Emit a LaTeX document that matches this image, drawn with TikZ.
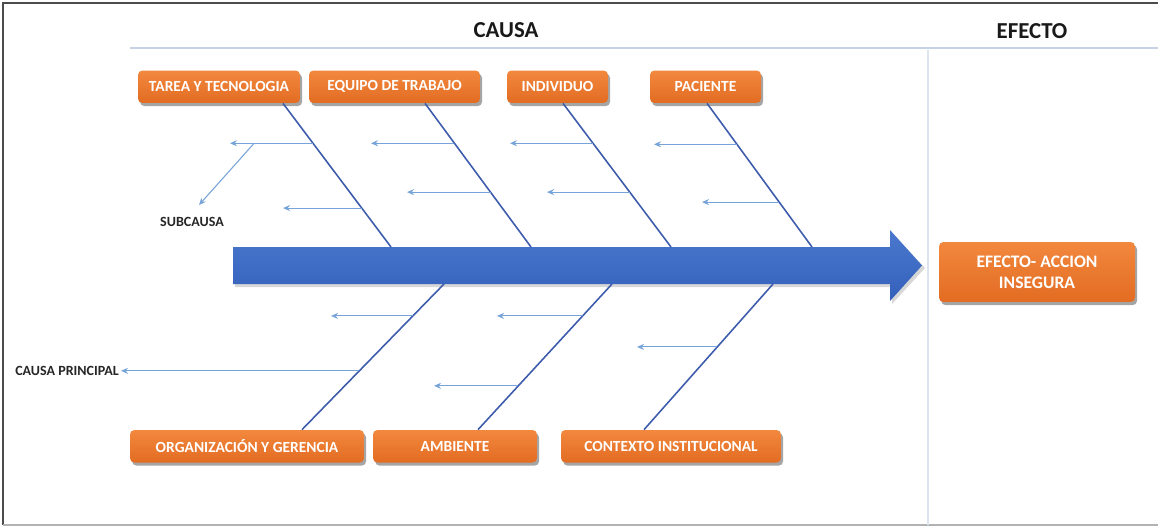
\documentclass[tikz,border=0pt]{standalone}
\usepackage{fontspec}
\setmainfont{Carlito}
\usepackage{xcolor}
\usepackage{tikz}
\usetikzlibrary{arrows.meta,shadows,calc}

\definecolor{orgtop}{RGB}{242,136,62}
\definecolor{orgbot}{RGB}{226,108,34}
\definecolor{spinetop}{RGB}{74,120,206}
\definecolor{spinebot}{RGB}{52,96,186}
\definecolor{bonecol}{RGB}{62,92,172}
\definecolor{subcol}{RGB}{118,164,216}
\definecolor{rulecol}{RGB}{196,210,228}

\begin{document}
\begin{tikzpicture}[x=0.02cm,y=-0.02cm,
  cbox/.style={rounded corners=2.5pt,top color=orgtop,bottom color=orgbot,draw=none,
    text=white,font=\fontsize{8.8}{10}\selectfont\bfseries,minimum height=0.65cm,
    inner sep=1pt,align=center,
    drop shadow={shadow xshift=1.2pt,shadow yshift=-1.8pt,fill=black!70,opacity=.5}},
  lbl/.style={font=\fontsize{8}{9}\selectfont\bfseries,text=black!85,inner sep=1pt},
  ttl/.style={font=\fontsize{13}{15}\selectfont\bfseries,text=black!90},
  bone/.style={bonecol,line width=0.9pt},
  sub/.style={subcol,line width=0.6pt,-{Stealth[length=1.4mm,width=1.2mm]}}]
  \useasboundingbox (0,0) rectangle (1158,527);
  % frame and the two areas
  \draw[black!70,line width=1.4pt] (1158,3) -- (3,3) -- (3,525);
  \draw[black!30,line width=0.8pt] (3,525) -- (1158,525);
  \draw[rulecol,line width=0.8pt] (130,48) -- (1158,48);
  \draw[rulecol!60,line width=0.8pt] (928,50) -- (928,525);
  \node[ttl] (causa) at (506,30) {CAUSA};
  \node[ttl] (efecto) at (1032,31) {EFECTO};
  % spine
  \fill[black!35,opacity=.45] (235,250) -- (892,250) -- (892,233) -- (925,268) -- (892,304) -- (892,287) -- (235,287) -- cycle;
  \shade[top color=spinetop,bottom color=spinebot] (233,247) -- (890,247) -- (890,230) -- (922,265.5) -- (890,301) -- (890,284) -- (233,284) -- cycle;
  \foreach \n/\x/\y in {s1/391/247, s2/531/247, s3/671/247, s4/812/247, s5/444/284, s6/612/284, s7/773/284}
    \coordinate (\n) at (\x,\y);
  % main causes
  \node[cbox,minimum width=3.24cm] (tarea) at (219,86.75) {TAREA Y TECNOLOGIA};
  \node[cbox,minimum width=3.42cm] (equipo) at (394.5,86.75) {EQUIPO DE TRABAJO};
  \node[cbox,minimum width=2.02cm] (indiv) at (557.5,86.75) {INDIVIDUO};
  \node[cbox,minimum width=2.22cm] (pac) at (705.5,86.75) {PACIENTE};
  \node[cbox,minimum width=4.68cm] (org) at (247,446.25) {ORGANIZACIÓN Y GERENCIA};
  \node[cbox,minimum width=3.28cm] (amb) at (455,446.25) {AMBIENTE};
  \node[cbox,minimum width=4.40cm] (ctx) at (671,446.25) {CONTEXTO INSTITUCIONAL};
  \node[cbox,minimum width=3.92cm,minimum height=1.2cm,font=\fontsize{10}{12}\selectfont\bfseries] (efx) at (1037,272) {EFECTO- ACCION\\INSEGURA};
  % bones
  \draw[bone] ([xshift=1.28cm]tarea.south) -- coordinate[pos=.278](b1a) coordinate[pos=.729](b1b) (s1);
  \draw[bone] ([xshift=0.61cm]equipo.south) -- coordinate[pos=.278](b2a) coordinate[pos=.618](b2b) (s2);
  \draw[bone] ([xshift=0.11cm]indiv.south) -- coordinate[pos=.278](b3a) coordinate[pos=.618](b3b) (s3);
  \draw[bone] ([xshift=0.03cm]pac.south) -- coordinate[pos=.285](b4a) coordinate[pos=.6875](b4b) (s4);
  \draw[bone] ([xshift=1.10cm]org.north) -- coordinate[pos=.781](b5a) coordinate[pos=.404](b5b) (s5);
  \draw[bone] ([xshift=0.46cm]amb.north) -- coordinate[pos=.781](b6a) coordinate[pos=.301](b6b) (s6);
  \draw[bone] ([xshift=-0.54cm]ctx.north) -- coordinate[pos=.568](b7a) (s7);
  % sub causes
  \foreach \n/\x/\y in {t1a/230/143, t1b/283/208, t2a/371/143, t2b/407/192, t3a/510/143, t3b/547/192,
      t4a/654/144, t4b/702/202, t5a/331/316, t6a/497/316, t6b/434/386, t7a/637/347}
    \coordinate (\n) at (\x,\y);
  \draw[sub] (b1a) -- coordinate[pos=.71](sc0) (b1a -| t1a);
  \foreach \b in {1b,2a,2b,3a,3b,4a,4b,5a,6a,6b,7a}
    \draw[sub] (b\b) -- (b\b -| t\b);
  \node[lbl] (subc) at (192,222) {SUBCAUSA};
  \coordinate (subtip) at (199,205);
  \draw[sub] (sc0) -- (subtip);
  \node[lbl,anchor=east] (cprin) at (121,371) {CAUSA PRINCIPAL};
  \draw[sub] (b5b) -- (b5b -| cprin.east);
\end{tikzpicture}
\end{document}
